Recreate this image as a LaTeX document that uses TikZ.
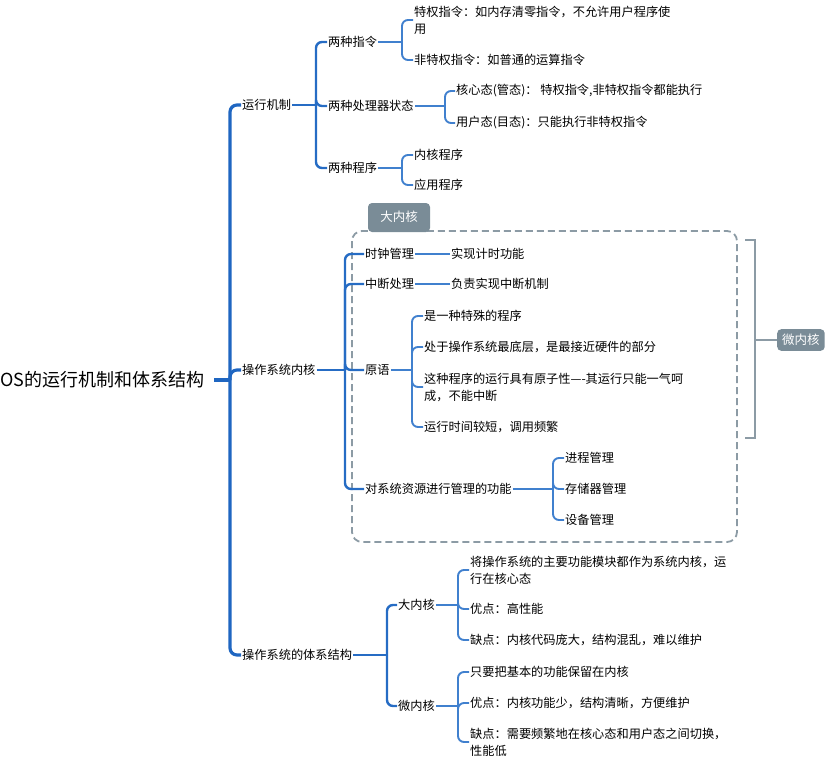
\documentclass[tikz,border=0pt]{standalone}
\usepackage{fontspec}
\setmainfont{Noto Sans CJK SC}
\begin{document}
\begin{tikzpicture}[x=1pt,y=-1pt,
  t/.style={anchor=west,inner sep=1pt,font=\fontsize{12.2}{17}\selectfont,align=left},
  c0/.style={draw={rgb,255:red,31;green,102;blue,193},line width=3.2pt,rounded corners=7pt},
  c1/.style={draw={rgb,255:red,38;green,108;blue,196},line width=2.4pt,rounded corners=6pt},
  c2/.style={draw={rgb,255:red,64;green,128;blue,206},line width=1.9pt,rounded corners=6pt},
  grayb/.style={fill={rgb,255:red,122;green,140;blue,151},text=white,font=\fontsize{12.5}{14}\selectfont,inner sep=4pt}]
\useasboundingbox (0,0) rectangle (840,764);
% root
\node[anchor=west,inner sep=0pt,font=\fontsize{18}{20}\selectfont] (root) at (0,380) {OS的运行机制和体系结构};
\coordinate (T0) at (230,0);
\node[t] (a) at (241,105) {运行机制};
\node[t] (b) at (241,370) {操作系统内核};
\node[t] (c) at (241,655) {操作系统的体系结构};
\draw[c0] ([xshift=10pt]root.east) -- (T0|-root.east);
\foreach \n in {a,b,c}{\draw[c0] (T0|-root.east) |- (\n.west);}
% 运行机制
\coordinate (T1) at (316,0);
\node[t] (a1) at (327,42) {两种指令};
\node[t] (a2) at (327,106) {两种处理器状态};
\node[t] (a3) at (327,168) {两种程序};
\draw[c1] (a.east) -- (T1|-a.east);
\foreach \n in {a1,a2,a3}{\draw[c1] (T1|-a.east) |- (\n.west);}
\coordinate (T11) at (402,0);
\node[t] (a11) at (413,20) {特权指令：如内存清零指令，不允许用户程序使\\用};
\node[t] (a12) at (413,60) {非特权指令：如普通的运算指令};
\draw[c2] (a1.east) -- (T11|-a1.east);
\foreach \n in {a11,a12}{\draw[c2] (T11|-a1.east) |- (\n.west);}
\coordinate (T12) at (445,0);
\node[t] (a21) at (455,91) {核心态(管态)：\ 特权指令,非特权指令都能执行};
\node[t] (a22) at (455,123) {用户态(目态)：只能执行非特权指令};
\draw[c2] (a2.east) -- (T12|-a2.east);
\foreach \n in {a21,a22}{\draw[c2] (T12|-a2.east) |- (\n.west);}
\coordinate (T13) at (402,0);
\node[t] (a31) at (413,155) {内核程序};
\node[t] (a32) at (413,185) {应用程序};
\draw[c2] (a3.east) -- (T13|-a3.east);
\foreach \n in {a31,a32}{\draw[c2] (T13|-a3.east) |- (\n.west);}
% 大内核 dashed box
\draw[line width=1.8pt,draw={rgb,255:red,140;green,155;blue,165},dash pattern=on 7pt off 4pt,rounded corners=10pt] (352,231) rectangle (737,542);
\fill[fill={rgb,255:red,122;green,140;blue,151},rounded corners=4pt] (368,232) -- (368,203) -- (430,203) -- (430,232) -- cycle;
\node[text=white,font=\fontsize{12.5}{14}\selectfont] (bk) at (399,217) {大内核};
% 操作系统内核
\coordinate (T2) at (345,0);
\node[t] (b1) at (364,254) {时钟管理};
\node[t] (b2) at (364,284) {中断处理};
\node[t] (b3) at (364,370) {原语};
\node[t] (b4) at (364,489) {对系统资源进行管理的功能};
\draw[c1] (b.east) -- (T2|-b.east);
\foreach \n in {b1,b2,b3,b4}{\draw[c1] (T2|-b.east) |- (\n.west);}
\node[t] (b11) at (450,254) {实现计时功能};
\node[t] (b21) at (450,284) {负责实现中断机制};
\draw[c2] (b1.east) -- (b11.west);
\draw[c2] (b2.east) -- (b21.west);
\coordinate (T23) at (412,0);
\node[t] (b31) at (423,316) {是一种特殊的程序};
\node[t] (b32) at (423,347) {处于操作系统最底层，是最接近硬件的部分};
\node[t] (b33) at (423,387) {这种程序的运行具有原子性----其运行只能一气呵\\成，不能中断};
\node[t] (b34) at (423,427) {运行时间较短，调用频繁};
\draw[c2] (b3.east) -- (T23|-b3.east);
\foreach \n in {b31,b32,b33,b34}{\draw[c2] (T23|-b3.east) |- (\n.west);}
\coordinate (T24) at (553,0);
\node[t] (b41) at (564,458) {进程管理};
\node[t] (b42) at (564,489) {存储器管理};
\node[t] (b43) at (564,520) {设备管理};
\draw[c2] (b4.east) -- (T24|-b4.east);
\foreach \n in {b41,b42,b43}{\draw[c2] (T24|-b4.east) |- (\n.west);}
% 微内核 bracket
\node[grayb,anchor=west,rounded corners=4pt,inner sep=5pt] (wk) at (777,340) {微内核};
\coordinate (br) at (755,340);
\draw[line width=1.8pt,draw={rgb,255:red,140;green,155;blue,165}] (745,240) -- (755,240) -- (755,438) -- (745,438);
\draw[line width=1.8pt,draw={rgb,255:red,140;green,155;blue,165}] (br) -- (wk.west);
% 体系结构
\coordinate (T3) at (387,0);
\node[t] (c1) at (397,605) {大内核};
\node[t] (c2) at (397,706) {微内核};
\draw[c1] (c.east) -- (T3|-c.east);
\foreach \n in {c1,c2}{\draw[c1] (T3|-c.east) |- (\n.west);}
\coordinate (T31) at (458,0);
\node[t] (c11) at (469,570) {将操作系统的主要功能模块都作为系统内核，运\\行在核心态};
\node[t] (c12) at (469,609) {优点：高性能};
\node[t] (c13) at (469,640) {缺点：内核代码庞大，结构混乱，难以维护};
\draw[c2] (c1.east) -- (T31|-c1.east);
\foreach \n in {c11,c12,c13}{\draw[c2] (T31|-c1.east) |- (\n.west);}
\node[t] (c21) at (469,672) {只要把基本的功能保留在内核};
\node[t] (c22) at (469,703) {优点：内核功能少，结构清晰，方便维护};
\node[t] (c23) at (469,742) {缺点：需要频繁地在核心态和用户态之间切换，\\性能低};
\draw[c2] (c2.east) -- (T31|-c2.east);
\foreach \n in {c21,c22,c23}{\draw[c2] (T31|-c2.east) |- (\n.west);}
\end{tikzpicture}
\end{document}
